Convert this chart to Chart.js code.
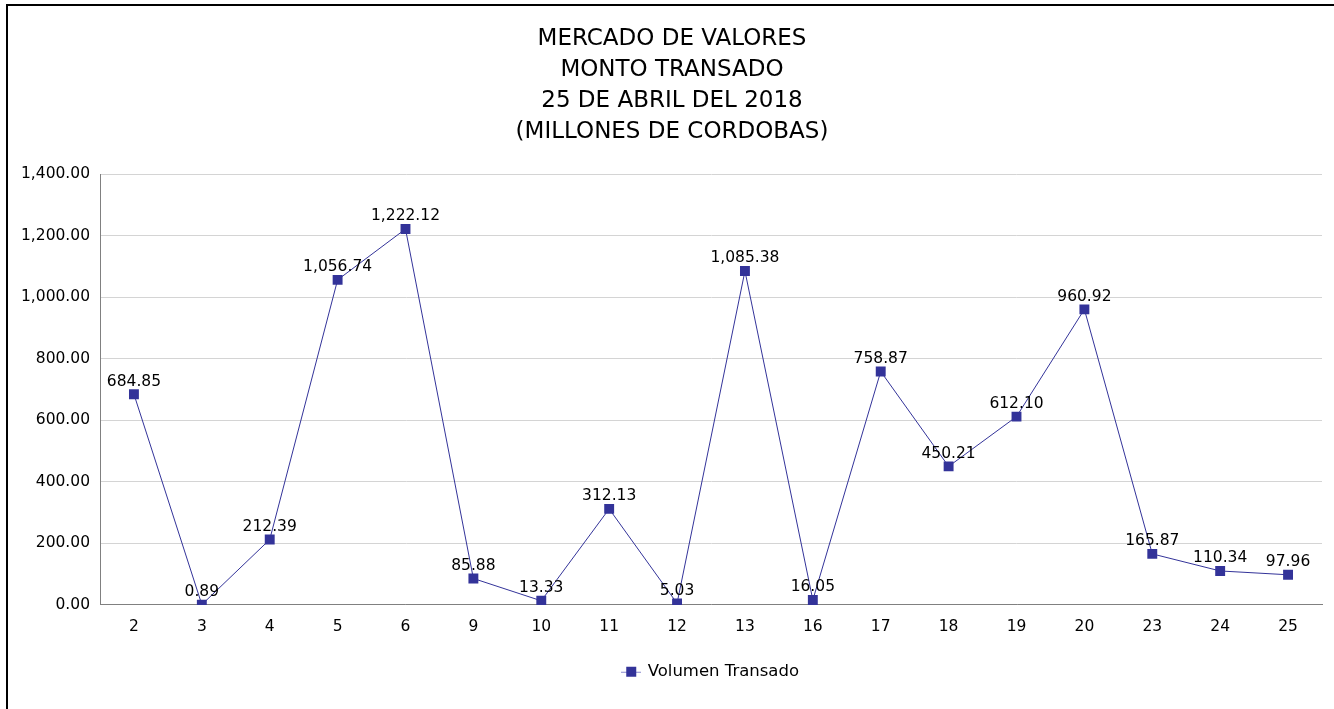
<!DOCTYPE html>
<html>
<head>
<meta charset="utf-8">
<script src="https://cdn.jsdelivr.net/npm/chart.js@4/dist/chart.umd.min.js"></script>
<style>
  body { margin: 0; background: #fff; overflow: hidden; }
  #marco { position: absolute; left: 6px; top: 4px; width: 1340px; height: 720px; border: 2px solid #000; }
  #caja { position: absolute; left: 0; top: 0; width: 1334px; height: 709px; }
</style>
</head>
<body>
<div id="marco"></div>
<div id="caja"><canvas id="myChart" width="1334" height="709"></canvas></div>
<script>
var dias = ['2', '3', '4', '5', '6', '9', '10', '11', '12', '13', '16', '17', '18', '19', '20', '23', '24', '25'];
var volumenTransado = [684.85, 0.89, 212.39, 1056.74, 1222.12, 85.88, 13.33, 312.13, 5.03, 1085.38, 16.05, 758.87, 450.21, 612.10, 960.92, 165.87, 110.34, 97.96];
var titulo = ['MERCADO DE VALORES', 'MONTO TRANSADO', '25 DE ABRIL DEL 2018', '(MILLONES DE CORDOBAS)'];

var fuente = "'DejaVu Sans', sans-serif";
var azul = '#333399';

function formato(v) {
    return v.toLocaleString('en-US', { minimumFractionDigits: 2, maximumFractionDigits: 2 });
}

// icono de la leyenda: linea con cuadro en medio
var icono = document.createElement('canvas');
icono.width = 20; icono.height = 12;
var ic = icono.getContext('2d');
ic.strokeStyle = '#8888cc';
ic.lineWidth = 1;
ic.beginPath(); ic.moveTo(0, 6.5); ic.lineTo(20, 6.5); ic.stroke();
ic.fillStyle = azul;
ic.fillRect(5, 1, 10, 10);

/* etiquetas de valores encima de cada punto */
const etiquetas = {
    id: 'etiquetas',
    afterDatasetsDraw(chart) {
        const ctx = chart.ctx;
        const meta = chart.getDatasetMeta(0);
        ctx.save();
        ctx.font = '15.5px ' + fuente;
        ctx.fillStyle = '#000';
        ctx.textAlign = 'center';
        ctx.textBaseline = 'bottom';
        meta.data.forEach(function (p, i) {
            ctx.fillText(formato(volumenTransado[i]), p.x, p.y - 5);
        });
        ctx.restore();
    }
};

const myChart = new Chart(document.getElementById('myChart'), {
    type: 'line',
    data: {
        labels: dias,
        datasets: [{
            label: 'Volumen Transado',
            data: volumenTransado,
            borderColor: azul,
            backgroundColor: azul,
            borderWidth: 1,
            pointStyle: 'rect',
            pointRadius: 7,
            pointBorderWidth: 0,
            pointBackgroundColor: azul,
            tension: 0
        }]
    },
    options: {
        responsive: false,
        animation: false,
        layout: { padding: { left: 10, right: 0, top: 16, bottom: 19 } },
        plugins: {
            title: {
                display: true,
                text: titulo,
                color: '#000',
                font: { family: fuente, size: 23, weight: 'normal', lineHeight: 1.34 },
                padding: { top: 8, bottom: 27 }
            },
            legend: {
                position: 'bottom',
                fullSize: false,
                labels: {
                    usePointStyle: true,
                    pointStyle: icono,
                    color: '#000',
                    font: { family: fuente, size: 16.5 },
                    padding: 14
                }
            },
            tooltip: { enabled: false }
        },
        scales: {
            x: {
                offset: true,
                grid: { display: false, drawTicks: false },
                border: { color: '#808080', width: 1 },
                ticks: { color: '#000', font: { family: fuente, size: 15.5 }, padding: 13 }
            },
            y: {
                min: 0,
                max: 1400,
                afterFit: function (s) { s.width = 90; },
                grid: { color: '#d4d4d4', drawTicks: false },
                border: { color: '#808080', width: 1 },
                ticks: {
                    stepSize: 200,
                    padding: 10,
                    color: '#000',
                    font: { family: fuente, size: 15.5 },
                    callback: function (v) { return formato(v); }
                }
            },
            derecha: {
                position: 'right',
                afterFit: function (s) { s.width = 12; },
                grid: { display: false },
                border: { display: false },
                ticks: { display: false }
            }
        }
    },
    plugins: [etiquetas]
});
</script>
</body>
</html>
